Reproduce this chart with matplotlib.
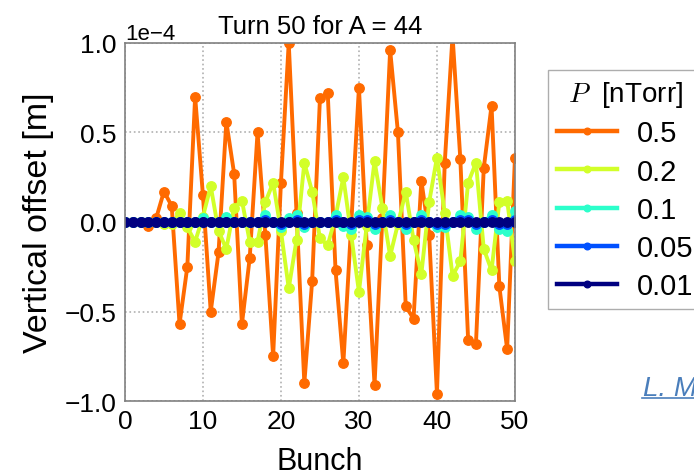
import matplotlib
matplotlib.use("Agg")
import matplotlib.pyplot as plt
import numpy as np
from matplotlib.lines import Line2D

plt.rcParams["font.family"] = ["Liberation Sans", "DejaVu Sans"]
plt.rcParams["mathtext.fontset"] = "cm"

# bunch index
bunch = np.arange(0, 51)

# vertical offset in units of 1e-4 m, one list per pressure
off_05 = [0.0, 0.0, 0.0, -0.02, 0.02, 0.17, 0.09, -0.57, -0.25, 0.70,
          0.15, -0.50, -0.17, 0.56, 0.27, -0.57, -0.20, 0.50, -0.07, -0.75,
          0.22, 1.00, 0.05, -0.90, -0.33, 0.69, 0.72, -0.27, -0.79, -0.02,
          0.75, -0.13, -0.91, 0.02, 0.96, 0.50, -0.47, -0.54, 0.23, -0.07,
          -0.96, 0.33, 1.04, 0.35, -0.66, -0.68, 0.30, 0.65, -0.36, -0.71,
          0.36]
off_02 = [0.0, 0.0, 0.0, 0.0, 0.0, -0.01, -0.01, 0.05, -0.03, -0.11,
          0.03, 0.20, -0.05, -0.15, 0.08, 0.12, -0.11, -0.11, 0.11, 0.22,
          -0.05, -0.37, -0.10, 0.33, 0.17, -0.09, -0.13, 0.03, 0.25, -0.07,
          -0.39, -0.02, 0.34, 0.08, -0.19, -0.01, 0.17, -0.10, -0.29, 0.11,
          0.36, 0.05, -0.30, -0.22, 0.22, 0.33, -0.15, -0.27, 0.11, 0.12,
          -0.22]
off_01 = [0.0, 0.0, 0.0, 0.0, 0.0, 0.0, 0.0, 0.0, 0.0, 0.0,
          0.02, 0.0, 0.0, 0.03, 0.0, 0.0, 0.0, 0.0, 0.04, 0.0,
          -0.03, 0.02, 0.04, -0.03, 0.0, 0.0, 0.0, 0.04, -0.02, -0.04,
          0.04, 0.03, -0.04, 0.0, 0.04, 0.0, -0.04, 0.0, 0.04, 0.0,
          -0.03, -0.03, 0.0, 0.04, 0.03, -0.04, 0.0, 0.04, -0.04, -0.05,
          0.06]
off_005 = [0.0, 0.0, 0.0, 0.0, 0.0, 0.0, 0.0, 0.0, 0.0, 0.0,
           0.0, 0.0, 0.0, 0.0, 0.0, 0.0, 0.0, 0.0, 0.01, 0.0,
           -0.01, 0.0, 0.01, -0.01, 0.0, 0.0, 0.0, 0.01, 0.0, -0.01,
           0.01, 0.01, -0.01, 0.0, 0.01, 0.0, -0.01, 0.0, 0.01, 0.0,
           -0.01, -0.01, 0.0, 0.01, 0.01, -0.01, 0.0, 0.01, -0.01, -0.01,
           0.01]
off_001 = [0.0] * 51

pressures = ["0.5", "0.2", "0.1", "0.05", "0.01"]
series = [off_05, off_02, off_01, off_005, off_001]
colores = ["#ff6a00", "#d2ff29", "#2cffcb", "#0050ff", "#000080"]

fig = plt.figure(figsize=(6.94, 4.77), dpi=100)
ax = fig.add_axes([0.180, 0.157, 0.562, 0.751])

for p, s, c in zip(pressures, series, colores):
    ax.plot(bunch, np.array(s) * 1e-4, "-o", color=c, lw=2.8, ms=6.8,
            label=p, clip_on=True)

ax.set_xlim(0, 50)
ax.set_ylim(-1e-4, 1e-4)
ax.set_xticks([0, 10, 20, 30, 40, 50])
ax.set_yticks([-1e-4, -0.5e-4, 0, 0.5e-4, 1e-4])
ax.ticklabel_format(axis="y", style="sci", scilimits=(0, 0))
ax.yaxis.get_offset_text().set_fontsize(16)
ax.tick_params(axis="both", labelsize=19, length=0, pad=6)
ax.grid(True, linestyle=":", color="#b0b0b0", lw=1.2)
for sp in ax.spines.values():
    sp.set_color("#808080")
    sp.set_linewidth(1.2)

ax.set_xlabel("Bunch", fontsize=22, labelpad=9)
ax.set_ylabel("Vertical offset [m]", fontsize=24.5, labelpad=8)
ax.set_title("Turn 50 for A = 44", fontsize=18.5, pad=7)

leg = ax.legend(title=r"$P$  [nTorr]", loc="center left",
                bbox_to_anchor=(1.085, 0.59), borderaxespad=0,
                fontsize=21, title_fontsize=20, numpoints=1,
                markerscale=0.7, handlelength=2.05, fancybox=False,
                frameon=True, borderpad=0.3, labelspacing=0.35,
                handletextpad=0.7)
leg.get_frame().set_edgecolor("#999999")
leg.get_frame().set_linewidth(1.0)
for h in leg.legend_handles:
    h.set_linewidth(3.2)

fig.text(0.927, 0.17, "L. Mether", color="#4a7ebb", fontsize=20,
         style="italic")
fig.add_artist(Line2D([0.925, 1.0], [0.164, 0.164], color="#4a7ebb",
                      lw=1.2, transform=fig.transFigure))

fig.savefig("out.png", dpi=100)
